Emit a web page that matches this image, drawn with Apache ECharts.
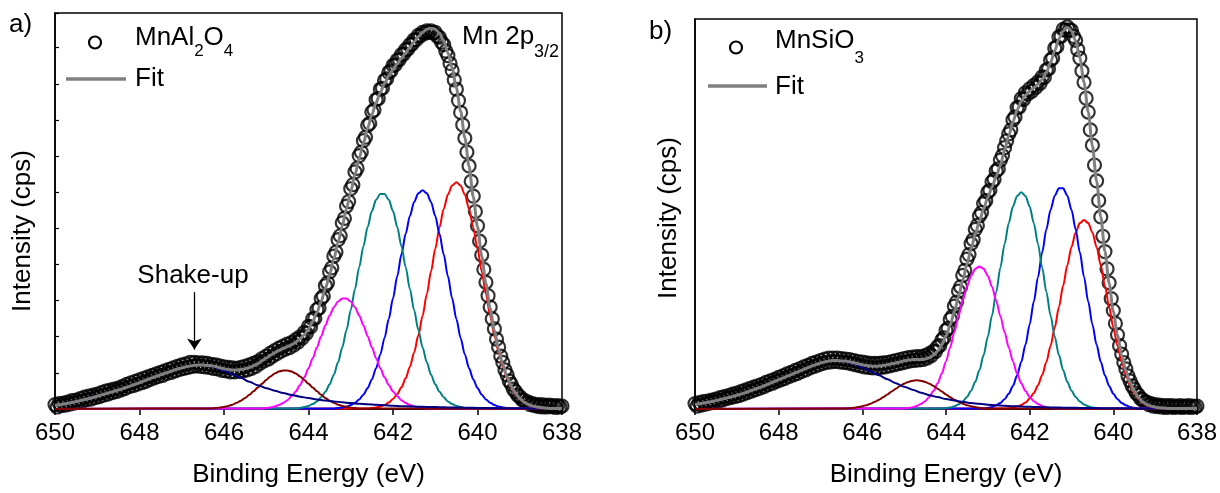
<!DOCTYPE html>
<html><head><meta charset="utf-8">
<script src="https://cdn.jsdelivr.net/npm/echarts@6/dist/echarts.min.js"></script>
<style>html,body{margin:0;padding:0;background:#fff}#c{width:1220px;height:493px}</style>
</head><body><div id="c"></div>
<script>
// ---------- tick labels ----------
const xTickLabels = [650, 648, 646, 644, 642, 640, 638];
const xMin = 638, xMax = 650, xInterval = 2;

// ---------- Panel a: MnAl2O4 ----------
const aDataStart = 650, aDataStep = 0.05;
const aData = [
 4.5,2.0,5.5,3.5,6.0,4.0,7.0,5.0,8.5,6.0,
 9.0,7.0,10.5,8.0,12.0,9.5,13.0,10.0,14.0,11.5,
 15.0,12.5,16.5,14.0,18.0,15.0,19.0,16.5,20.0,17.5,
 21.0,19.0,23.0,20.5,25.0,22.5,26.5,23.5,28.0,25.0,
 29.5,26.5,31.0,28.0,32.5,30.0,34.0,31.5,35.5,33.0,
 37.0,34.0,38.5,36.0,40.0,37.0,41.5,38.5,43.0,40.0,
 44.5,41.0,45.5,42.0,47.0,43.0,47.0,43.5,46.5,43.0,
 46.5,42.5,46.0,42.0,45.0,41.0,44.5,40.5,43.5,39.0,
 42.5,38.5,42.0,37.5,41.5,37.5,41.0,38.0,42.0,38.5,
 43.0,39.5,44.5,41.0,46.0,43.0,48.0,46.0,51.0,48.5,
 53.5,50.5,56.5,53.5,59.0,56.0,61.5,58.5,63.5,60.5,
 65.5,62.0,67.0,64.5,70.0,67.5,73.0,71.5,77.5,76.5,
 83.5,83.0,91.0,91.5,100.5,102.0,111.5,114.0,124.5,127.5,
 138.5,142.5,154.5,158.5,171.0,175.0,188.0,192.5,205.0,209.5,
 222.5,226.5,239.5,243.0,256.0,259.5,271.0,274.5,286.5,288.5,
 300.0,302.0,312.5,313.5,323.0,324.0,332.0,333.5,340.0,341.5,
 347.0,347.5,352.5,353.0,358.0,358.5,363.0,363.5,368.0,368.5,
 373.0,373.0,377.5,377.0,380.5,379.5,382.0,380.5,382.0,380.0,
 380.5,376.5,375.5,370.5,368.0,361.5,357.0,349.0,342.0,332.5,
 323.0,311.5,299.5,287.0,273.5,259.5,245.5,230.0,215.0,199.5,
 185.0,169.5,155.5,141.0,128.0,114.5,103.0,91.0,81.0,70.5,
 62.5,53.5,47.0,39.5,34.5,28.5,25.0,20.0,17.5,14.0,
 12.5,9.5,9.0,6.5,7.0,4.5,5.5,3.5,4.5,2.5,
 4.5,2.0,4.0,2.0,4.0,2.5,3.5,1.5,3.5,2.0,
 3.0
];
const aFitStart = 650, aFitStep = 0.1;
const aFit = [
 3.5,4.2,5.0,5.7,6.5,7.5,8.5,9.5,10.5,11.7,
 13.0,14.2,15.5,16.7,18.0,19.2,20.5,22.0,23.5,25.0,
 26.5,28.2,30.0,31.5,33.0,34.5,36.0,37.5,39.0,40.3,
 41.5,42.6,43.5,44.1,44.5,44.4,44.0,43.7,42.9,41.7,
 40.6,39.9,39.4,39.4,39.9,40.6,41.8,43.6,45.7,48.7,
 51.4,54.2,56.9,59.1,61.1,63.0,64.8,67.5,70.7,75.0,
 80.8,88.3,97.6,108.8,121.6,135.9,151.7,168.3,185.2,202.5,
 219.8,236.7,253.3,268.5,283.8,297.4,309.5,319.8,328.8,336.4,
 343.0,348.8,354.4,359.9,365.5,371.0,376.1,380.5,383.7,384.7,
 383.6,379.6,371.8,359.9,344.2,324.4,300.9,274.1,245.1,214.4,
 184.0,154.4,126.6,101.3,79.3,60.4,45.0,32.6,23.1,15.7,
 10.8,7.1,4.7,3.1,2.1,1.4,1.0,0.5,0.5,0.5,
 0.5
];
const aNavyStart = 650, aNavyStep = 0.2;
const aNavy = [
 3.5,5,6.5,8.5,10.5,13,15.5,18,20.5,23.5,
 26.5,30,33,36,39,41.5,43.5,44.5,44,42,
 38.5,35,31.5,27.5,24,21,18.5,16.2,14.2,12.5,
 11,9.7,8.6,7.6,6.8,6,5.3,4.7,4.2,3.7,
 3.3,2.9,2.6,2.3,2.1,1.9,1.7,1.5,1.4,1.2,
 1.1,1.0,0.9,0.8,0.7,0.7,0.6,0.6,0.5,0.5,
 0.5
];
const compStep = 0.1;
const aBrownStart = 646.3;
const aBrown = [0.6,0.9,1.4,2.1,3.1,4.4,6.2,8.4,11.1,14.3,17.9,21.7,25.6,29.4,32.9,35.8,37.8,38.9,38.9,37.8,35.8,32.9,29.4,25.6,21.7,17.9,14.3,11.1,8.4,6.2,4.4,3.1,2.1,1.4,0.9,0.6];
const aMagentaStart = 645.1;
const aMagenta = [0.6,1.0,1.6,2.6,4.0,6.0,8.9,12.8,17.8,24.2,32.0,41.1,51.3,62.3,73.6,84.5,94.5,102.7,108.6,111.6,111.6,108.6,102.7,94.5,84.5,73.6,62.3,51.3,41.1,32.0,24.2,17.8,12.8,8.9,6.0,4.0,2.6,1.6,1.0,0.6];
const aTealStart = 644.3;
const aTeal = [0.6,1.1,1.9,3.1,5.0,7.7,11.8,17.4,24.9,34.7,47.2,62.2,79.9,99.8,121.2,143.2,164.5,183.9,199.9,211.3,217.2,217.2,211.3,199.9,183.9,164.5,143.2,121.2,99.8,79.9,62.2,47.2,34.7,24.9,17.4,11.8,7.7,5.0,3.1,1.9,1.1,0.6];
const aBlueStart = 643.4;
const aBlue = [0.5,0.9,1.5,2.5,4.0,6.3,9.7,14.5,21.1,29.9,41.2,55.1,71.8,90.9,111.9,134.0,156.2,177.0,195.0,209.1,217.9,221,217.9,209.1,195.0,177.0,156.2,134.0,111.9,90.9,71.8,55.1,41.2,29.9,21.1,14.5,9.7,6.3,4.0,2.5,1.5,0.9,0.5];
const aRedStart = 642.6;
const aRed = [0.5,0.9,1.5,2.5,4.1,6.5,10.1,15.0,21.9,31.0,42.7,57.1,74.4,94.1,115.9,138.9,161.8,183.4,202.1,216.6,225.8,229,225.8,216.6,202.1,183.4,161.8,138.9,115.9,94.1,74.4,57.1,42.7,31.0,21.9,15.0,10.1,6.5,4.1,2.5,1.5,0.9,0.5];

// ---------- Panel b: MnSiO3 ----------
const bDataStart = 650, bDataStep = 0.05;
const bData = [
 5.5,3.0,6.5,4.0,7.5,5.0,8.0,6.0,9.0,7.0,
 10.0,8.0,11.5,9.0,12.5,10.5,13.5,11.5,15.0,12.5,
 16.0,13.5,17.5,15.0,19.0,16.5,20.5,18.0,22.0,19.5,
 23.5,21.0,25.0,22.5,27.0,24.5,28.5,26.0,30.0,28.0,
 32.0,29.5,33.5,31.0,35.5,33.0,37.0,34.5,39.0,36.0,
 40.5,38.0,42.5,39.5,44.0,41.5,46.0,43.0,47.5,44.5,
 49.0,46.0,50.5,47.0,51.5,47.5,51.5,48.0,51.5,47.5,
 51.0,47.0,50.5,46.5,50.0,45.5,49.0,44.5,48.0,43.5,
 47.5,42.5,46.5,42.0,46.0,41.5,46.0,41.5,46.0,42.0,
 46.5,42.5,47.0,43.5,48.0,44.5,49.0,45.5,50.0,46.5,
 51.0,47.5,52.0,48.5,52.5,49.0,53.0,49.5,53.0,50.0,
 54.0,51.5,56.0,54.0,58.5,58.0,63.0,64.0,69.5,72.0,
 79.5,81.5,90.5,93.5,104.0,108.0,119.0,123.5,135.0,140.0,
 151.5,156.0,167.0,171.0,181.5,185.5,195.0,198.5,207.5,210.5,
 219.0,221.0,229.5,232.0,240.5,242.5,251.5,256.0,264.0,271.0,
 278.0,282.0,292.0,295.0,304.5,305.0,313.5,312.5,319.5,318.0,
 323.5,321.0,327.0,325.0,330.5,329.0,335.5,335.0,342.5,343.5,
 352.5,354.5,364.5,366.0,376.0,376.5,383.5,382.5,386.0,383.0,
 382.5,376.5,372.5,363.0,354.5,341.5,330.0,314.0,300.0,282.0,
 266.5,246.5,230.5,210.5,194.0,174.5,159.0,141.5,127.5,111.5,
 99.5,86.5,75.0,64.0,55.5,47.0,40.5,33.5,28.5,23.5,
 20.0,16.0,14.0,10.5,9.5,7.0,7.0,4.5,5.5,3.0,
 4.5,2.5,4.0,2.0,3.5,1.5,3.5,2.0,3.5,1.5,
 3.0,2.0,3.5,1.5,3.0,2.0,3.5,1.5,3.0,2.0,
 3.0
];
const bFitStart = 650, bFitStep = 0.1;
const bFit = [
 4.5,5.2,6.0,6.7,7.5,8.5,9.5,10.5,11.5,12.7,
 14.0,15.2,16.5,18.0,19.5,21.0,22.5,24.2,26.0,27.7,
 29.5,31.2,33.0,34.7,36.5,38.2,40.0,41.7,43.5,45.0,
 46.5,47.6,48.5,48.9,49.0,48.6,48.5,47.7,46.8,45.7,
 44.8,43.9,43.4,43.2,43.4,43.9,44.7,45.6,46.5,47.4,
 48.7,49.4,49.9,50.0,50.1,50.5,51.8,54.3,58.4,65.0,
 73.7,84.8,98.3,113.4,129.7,146.0,161.9,176.6,189.9,202.4,
 213.7,224.1,235.1,246.1,262.0,276.0,290.0,302.0,311.0,317.0,
 321.0,324.5,328.0,333.0,340.0,350.0,362.0,374.0,382.0,385.5,
 382.0,372.0,354.8,329.9,300.1,266.1,230.4,194.2,159.0,127.0,
 98.6,74.2,54.4,38.8,26.8,18.1,11.7,7.2,4.6,3.0,
 1.9,1.3,0.9,0.5,0.5,0.5,0.5,0.5,0.5,0.5,
 0.5
];
const bNavyStart = 650, bNavyStep = 0.2;
const bNavy = [
 4.5,6,7.5,9.5,11.5,14,16.5,19.5,22.5,26,
 29.5,33,36.5,40,43.5,46.5,48.5,49,48,45.5,
 42,38,34,30,26,22.5,19.5,16.5,14,12,
 10,8.5,7.2,6.1,5.2,4.4,3.8,3.3,2.9,2.5,
 2.2,1.9,1.7,1.5,1.3,1.2,1.1,1.0,0.9,0.8,
 0.8,0.7,0.7,0.6,0.6,0.6,0.5,0.5,0.5,0.5,
 0.5
];
const bBrownStart = 646.4;
const bBrown = [0.5,0.8,1.3,1.9,2.8,3.9,5.4,7.2,9.4,11.9,14.7,17.6,20.5,23.2,25.6,27.4,28.6,29,28.6,27.4,25.6,23.2,20.5,17.6,14.7,11.9,9.4,7.2,5.4,3.9,2.8,1.9,1.3,0.8,0.5];
const bMagentaStart = 645.0;
const bMagenta = [0.6,1.0,1.8,3.0,5.0,7.9,12.2,18.1,25.9,35.9,48.1,62.2,77.7,93.8,109.5,123.4,134.5,141.6,144,141.6,134.5,123.4,109.5,93.8,77.7,62.2,48.1,35.9,25.9,18.1,12.2,7.9,5.0,3.0,1.8,1.0,0.6];
const bTealStart = 644.1;
const bTeal = [0.5,0.9,1.5,2.7,4.6,7.6,12.1,18.5,27.5,39.4,54.6,73.1,94.5,118.1,142.7,166.5,187.7,204.5,215.3,219,215.3,204.5,187.7,166.5,142.7,118.1,94.5,73.1,54.6,39.4,27.5,18.5,12.1,7.6,4.6,2.7,1.5,0.9,0.5];
const bBlueStart = 643.1;
const bBlue = [0.6,1.2,2.1,3.7,6.1,9.8,15.4,23.2,33.8,47.7,64.9,85.4,108.6,133.3,158.3,181.6,201.2,215.5,223.0,223.0,215.5,201.2,181.6,158.3,133.3,108.6,85.4,64.9,47.7,33.8,23.2,15.4,9.8,6.1,3.7,2.1,1.2,0.6];
const bRedStart = 642.6;
const bRed = [0.4,0.7,1.3,2.4,4.0,6.6,10.5,16.2,24.0,34.4,47.6,63.7,82.4,103.0,124.4,145.2,163.7,178.3,187.8,191,187.8,178.3,163.7,145.2,124.4,103.0,82.4,63.7,47.6,34.4,24.0,16.2,10.5,6.6,4.0,2.4,1.3,0.7,0.4];

// annotation (data coordinates)
const shakeArrow = { e: 646.7, from: 118, to: 60 };

// ---------- helpers ----------
function seq(start, step, vals) {
  return vals.map((v, i) => [Math.round((start - i * step) * 100) / 100, v]);
}
function comp(start, vals) {
  return [[xMax, 0]].concat(seq(start, compStep, vals), [[xMin, 0]]);
}
const FONT = '"Liberation Sans", Arial, sans-serif';
const colors = { navy: '#000080', brown: '#800000', magenta: '#FF00FF', teal: '#008080', blue: '#0000FF', red: '#FF0000', fit: '#808080' };
const CW = 2;

function xAxisCfg(gi) {
  return {
    gridIndex: gi, type: 'value', min: xMin, max: xMax, interval: xInterval, inverse: true,
    axisLine: { lineStyle: { color: '#000', width: 1.5 } },
    axisTick: { inside: false, length: 6, lineStyle: { color: '#000', width: 1.5 } },
    axisLabel: { fontSize: 24, color: '#000', fontFamily: FONT, margin: 12, showMinLabel: true, showMaxLabel: true },
    splitLine: { show: false },
    name: 'Binding Energy (eV)', nameLocation: 'middle', nameGap: 53,
    nameTextStyle: { fontSize: 26, color: '#000', fontFamily: FONT }
  };
}
function yAxisCfg(gi, max, ticks) {
  return {
    gridIndex: gi, type: 'value', min: 0, max: max, interval: 36.5,
    axisLine: { lineStyle: { color: '#000', width: 1.5 } },
    axisTick: { show: ticks, inside: true, length: 4, lineStyle: { color: '#000', width: 1.2 } },
    axisLabel: { show: false }, splitLine: { show: false }
  };
}
function lineS(gi, data, color, width, z) {
  return { type: 'line', xAxisIndex: gi, yAxisIndex: gi, data: data, symbol: 'none', smooth: 0.3, smoothMonotone: 'x',
    lineStyle: { color: color, width: width }, itemStyle: { color: color }, z: z, silent: true };
}
function scatterS(gi, data) {
  return { type: 'scatter', xAxisIndex: gi, yAxisIndex: gi, data: data, symbol: 'circle', symbolSize: 13,
    itemStyle: { color: 'rgba(0,0,0,0)', borderColor: '#000', borderWidth: 2.2 }, z: 2, silent: true };
}

const series = [
  scatterS(0, seq(aDataStart, aDataStep, aData)),
  lineS(0, comp(aRedStart, aRed), colors.red, CW, 3),
  lineS(0, comp(aBlueStart, aBlue), colors.blue, CW, 3),
  lineS(0, comp(aTealStart, aTeal), colors.teal, CW, 3),
  lineS(0, comp(aMagentaStart, aMagenta), colors.magenta, CW, 3),
  lineS(0, comp(aBrownStart, aBrown), colors.brown, CW, 3),
  lineS(0, seq(aNavyStart, aNavyStep, aNavy), colors.navy, CW, 3),
  Object.assign(lineS(0, seq(aFitStart, aFitStep, aFit), colors.fit, 3, 4), {
    markLine: { silent: true, symbol: ['none', 'arrow'], symbolSize: 11, label: { show: false },
      lineStyle: { color: '#000', width: 1.3, type: 'solid' },
      data: [[{ coord: [shakeArrow.e, shakeArrow.from] }, { coord: [shakeArrow.e, shakeArrow.to] }]] }
  }),
  scatterS(1, seq(bDataStart, bDataStep, bData)),
  lineS(1, comp(bRedStart, bRed), colors.red, CW, 3),
  lineS(1, comp(bBlueStart, bBlue), colors.blue, CW, 3),
  lineS(1, comp(bTealStart, bTeal), colors.teal, CW, 3),
  lineS(1, comp(bMagentaStart, bMagenta), colors.magenta, CW, 3),
  lineS(1, comp(bBrownStart, bBrown), colors.brown, CW, 3),
  lineS(1, seq(bNavyStart, bNavyStep, bNavy), colors.navy, CW, 3),
  lineS(1, seq(bFitStart, bFitStep, bFit), colors.fit, 3, 4)
];

function txt(x, y, text, size, align, rot) {
  return { type: 'text', x: x, y: y, rotation: rot || 0, z: 10,
    style: { text: text, font: size + 'px ' + FONT, fill: '#000', align: align || 'left', verticalAlign: 'middle',
      textAlign: align || 'left', textVerticalAlign: 'middle' } };
}
const graphics = [
  txt(9, 25, 'a)', 26), txt(649, 32, 'b)', 26),
  txt(23, 231, 'Intensity (cps)', 26, 'center', Math.PI / 2),
  txt(669, 218, 'Intensity (cps)', 26, 'center', Math.PI / 2),
  // legend a
  { type: 'circle', shape: { cx: 95, cy: 42.5, r: 6 }, style: { fill: 'none', stroke: '#000', lineWidth: 2.2 }, z: 10 },
  txt(135, 38, 'MnAl', 26), txt(194.2, 51.5, '2', 17), txt(203.6, 38, 'O', 26), txt(223.8, 51.5, '4', 17),
  { type: 'line', shape: { x1: 66, y1: 79, x2: 126, y2: 79 }, style: { stroke: colors.fit, lineWidth: 3.5 }, z: 10 },
  txt(135, 79, 'Fit', 26),
  txt(462, 37, 'Mn 2p', 26), txt(534, 52, '3/2', 18),
  txt(193, 276, 'Shake-up', 26, 'center'),
  // legend b
  { type: 'circle', shape: { cx: 736, cy: 47.5, r: 6 }, style: { fill: 'none', stroke: '#000', lineWidth: 2.2 }, z: 10 },
  txt(775, 41, 'MnSiO', 26), txt(854.5, 58, '3', 17),
  { type: 'line', shape: { x1: 708, y1: 86, x2: 767, y2: 86 }, style: { stroke: colors.fit, lineWidth: 3.5 }, z: 10 },
  txt(775, 87, 'Fit', 26)
];

const chart = echarts.init(document.getElementById('c'), null, { renderer: 'canvas' });
chart.setOption({
  animation: false,
  backgroundColor: '#fff',
  grid: [
    { left: 55, top: 13, width: 507, height: 400, show: true, borderColor: '#000', borderWidth: 1.5, backgroundColor: 'transparent' },
    { left: 695, top: 19, width: 502, height: 394, show: true, borderColor: '#000', borderWidth: 1.5, backgroundColor: 'transparent' }
  ],
  xAxis: [xAxisCfg(0), xAxisCfg(1)],
  yAxis: [yAxisCfg(0, 400, true), yAxisCfg(1, 394, false)],
  series: series,
  graphic: graphics
});
</script>
</body></html>
